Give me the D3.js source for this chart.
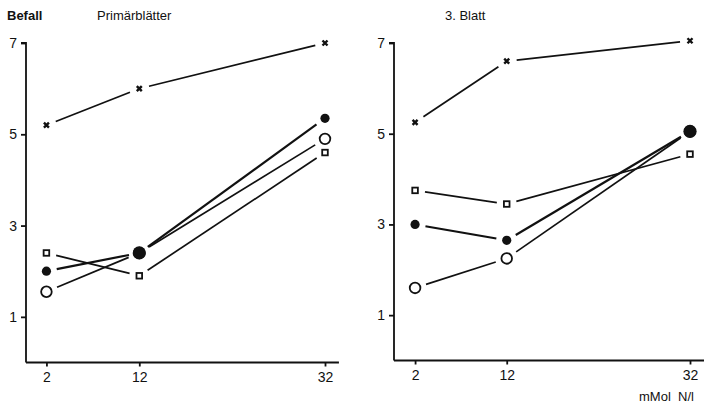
<!DOCTYPE html>
<html>
<head>
<meta charset="utf-8">
<script src="https://cdn.jsdelivr.net/npm/d3@7"></script>
<style>
  body { margin: 0; background: #fff; }
  text { font-family: "Liberation Sans", Arial, sans-serif; fill: #111; }
</style>
</head>
<body>
<svg id="chart" width="704" height="408"></svg>
<script>
// N-Gaben (mMol N/l)
var doses = [2, 12, 32];
var yTicks = [1, 3, 5, 7];

// Befall, Primärblätter
var primKreuz = [5.2, 6.0, 7.0];
var primVoll = [2.0, 2.4, 5.35];
var primOffen = [1.55, 2.4, 4.9];
var primQuadrat = [2.4, 1.9, 4.6];

// Befall, 3. Blatt
var blattKreuz = [5.25, 6.6, 7.05];
var blattVoll = [3.0, 2.65, 5.05];
var blattOffen = [1.6, 2.25, 5.05];
var blattQuadrat = [3.75, 3.45, 4.55];

var svg = d3.select("#chart");

function drawPanel(cfg) {
  var x = d3.scaleLinear().domain([cfg.x0, 32]).range(cfg.xr);
  var y = d3.scaleLinear().domain([0, 7]).range(cfg.yr);
  var g = svg.append("g");
  var ax = x(cfg.x0);

  // y axis
  var yAxis = d3.axisLeft(y).tickValues(yTicks).tickSize(5).tickPadding(4).tickFormat(d3.format("d"));
  var ya = g.append("g").attr("transform", "translate(" + ax + ",0)").call(yAxis);
  ya.select(".domain").attr("d", "M-5," + y(7) + "H0V" + y(0));
  ya.selectAll("path, line").attr("stroke", "#111").attr("stroke-width", 1.8);
  ya.selectAll("text").attr("font-size", 14);

  // x axis
  var xAxis = d3.axisBottom(x).tickValues(doses).tickSize(4).tickPadding(6).tickFormat(d3.format("d"));
  var xa = g.append("g").attr("transform", "translate(0," + y(0) + ")").call(xAxis);
  xa.select(".domain").attr("d", "M" + ax + ",0H" + x(cfg.xEnd));
  xa.selectAll("path, line").attr("stroke", "#111").attr("stroke-width", 1.8);
  xa.selectAll("text").attr("font-size", 14);

  var series = [
    {v: cfg.kreuz, m: "x", r: 4},
    {v: cfg.quadrat, m: "sq", r: 4},
    {v: cfg.offen, m: "o", r: 5.5},
    {v: cfg.voll, m: "f", r: 4.5}
  ];

  // line segments with small gaps near the markers
  series.forEach(function(s) {
    for (var i = 0; i < doses.length - 1; i++) {
      var x1 = x(doses[i]), y1 = y(s.v[i]), x2 = x(doses[i + 1]), y2 = y(s.v[i + 1]);
      var len = Math.hypot(x2 - x1, y2 - y1);
      var gap = s.r + 6;
      var ux = (x2 - x1) / len, uy = (y2 - y1) / len;
      g.append("line")
        .attr("x1", x1 + ux * gap).attr("y1", y1 + uy * gap)
        .attr("x2", x2 - ux * gap).attr("y2", y2 - uy * gap)
        .attr("stroke", "#111")
        .attr("stroke-width", s.m == "f" ? 2.2 : 1.7);
    }
  });

  // markers
  series.forEach(function(s) {
    doses.forEach(function(d, i) {
      var cx = x(d), cy = y(s.v[i]);
      if (s.m == "x") {
        g.append("path")
          .attr("d", "M" + (cx - 2.5) + "," + (cy - 2.5) + "L" + (cx + 2.5) + "," + (cy + 2.5) +
                     "M" + (cx + 2.5) + "," + (cy - 2.5) + "L" + (cx - 2.5) + "," + (cy + 2.5))
          .attr("stroke", "#111").attr("stroke-width", 2.4);
      } else if (s.m == "sq") {
        g.append("rect").attr("x", cx - 2.8).attr("y", cy - 2.8).attr("width", 5.6).attr("height", 5.6)
          .attr("fill", "#fff").attr("stroke", "#111").attr("stroke-width", 1.8);
      } else if (s.m == "o") {
        g.append("circle").attr("cx", cx).attr("cy", cy).attr("r", 5.3)
          .attr("fill", "#fff").attr("stroke", "#111").attr("stroke-width", 1.8);
      } else {
        // filled over an open circle at the same value: drawn as a big dot
        var big = Math.abs(s.v[i] - cfg.offen[i]) < 0.01;
        g.append("circle").attr("cx", cx).attr("cy", cy).attr("r", big ? 6.6 : 4.6)
          .attr("fill", "#111");
      }
    });
  });

  g.append("text").attr("x", cfg.titleX).attr("y", 20).attr("font-size", 13).text(cfg.title);
}

drawPanel({
  x0: -0.2, xr: [26, 325], yr: [362.5, 43], xEnd: 33.5,
  kreuz: primKreuz, voll: primVoll, offen: primOffen, quadrat: primQuadrat,
  title: "Primärblätter", titleX: 97
});
drawPanel({
  x0: -0.3, xr: [394, 690], yr: [360.5, 43], xEnd: 34.5,
  kreuz: blattKreuz, voll: blattVoll, offen: blattOffen, quadrat: blattQuadrat,
  title: "3. Blatt", titleX: 445
});

svg.append("text").attr("x", 7).attr("y", 20).attr("font-size", 13).attr("font-weight", "bold").text("Befall");
svg.append("text").attr("x", 639).attr("y", 401).attr("font-size", 13).attr("xml:space", "preserve").text("mMol  N/l");
</script>
</body>
</html>
